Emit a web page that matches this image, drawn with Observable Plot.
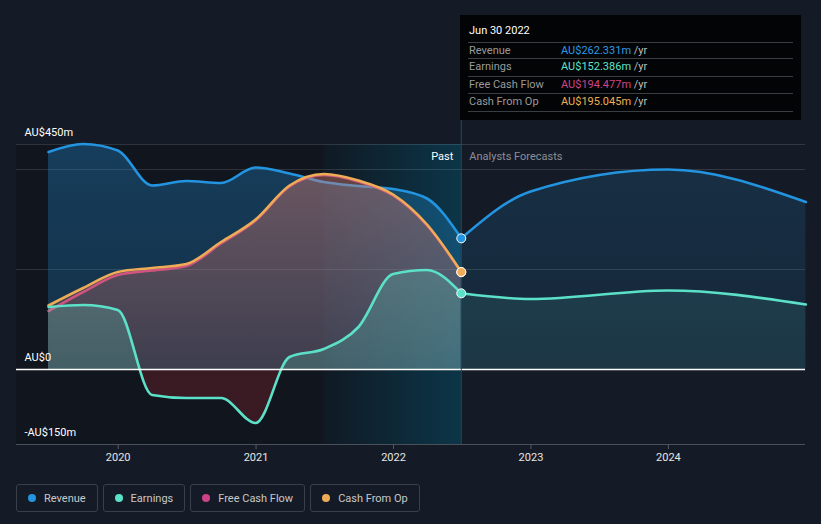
<!DOCTYPE html>
<html><head><meta charset="utf-8">
<script src="https://cdn.jsdelivr.net/npm/d3@7"></script>
<script src="https://cdn.jsdelivr.net/npm/@observablehq/plot@0.6"></script>
<style>
body{margin:0;background:#151b26;font-family:Roboto,sans-serif;}
#wrap{position:relative;width:821px;height:524px;overflow:hidden;}
#chart{position:absolute;left:0;top:0;}
.tip{position:absolute;left:460px;top:15px;width:341px;height:105px;background:#030405;font-size:11px;}
.tip .tt{position:absolute;left:9px;top:9px;color:#fff;line-height:14px;}
.tip .row{position:absolute;left:8px;width:325px;height:17px;border-top:1px solid #3a3d42;line-height:16px;}
.tip .row.last{border-bottom:1px solid #3a3d42;}
.tip .lab{position:absolute;left:1px;color:#9a9a9a;}
.tip .val{position:absolute;left:93px;}
.tip .yr{color:#bdbdbd;}
.legend{position:absolute;top:484px;left:16px;display:flex;gap:5px;}
.legend .item{height:28px;border:1px solid #3a3f4a;border-radius:3px;display:flex;align-items:center;padding:0 11px;color:#c8c8c8;font-size:11px;box-sizing:border-box;}
.legend .dot{width:8px;height:8px;border-radius:50%;margin-right:8px;}
</style>
</head><body>
<svg width="0" height="0" style="position:absolute">
<defs>
<linearGradient id="revPast" x1="0" y1="0" x2="0" y2="1"><stop offset="0" stop-color="#2394df" stop-opacity="0.32"/><stop offset="1" stop-color="#2394df" stop-opacity="0.2"/></linearGradient>
<linearGradient id="revFc" x1="0" y1="0" x2="0" y2="1"><stop offset="0" stop-color="#2394df" stop-opacity="0.16"/><stop offset="1" stop-color="#2394df" stop-opacity="0.1"/></linearGradient>
<linearGradient id="fcfG" x1="0" y1="0" x2="0" y2="1"><stop offset="0" stop-color="#c94386" stop-opacity="0.25"/><stop offset="1" stop-color="#c94386" stop-opacity="0.12"/></linearGradient>
<linearGradient id="cfoG" x1="0" y1="0" x2="0" y2="1"><stop offset="0" stop-color="#f0ad55" stop-opacity="0.22"/><stop offset="1" stop-color="#f0ad55" stop-opacity="0.1"/></linearGradient>
<linearGradient id="earnPast" gradientUnits="userSpaceOnUse" x1="0" y1="144" x2="0" y2="444"><stop offset="0" stop-color="#5ce1c9" stop-opacity="0.24"/><stop offset="0.75" stop-color="#5ce1c9" stop-opacity="0.2"/><stop offset="0.75" stop-color="#e0303a" stop-opacity="0.2"/><stop offset="1" stop-color="#e0303a" stop-opacity="0.2"/></linearGradient>
<linearGradient id="earnFc" x1="0" y1="0" x2="0" y2="1"><stop offset="0" stop-color="#5ce1c9" stop-opacity="0.1"/><stop offset="1" stop-color="#5ce1c9" stop-opacity="0.08"/></linearGradient>
<linearGradient id="hl" x1="0" y1="0" x2="1" y2="0"><stop offset="0" stop-color="#0082aa" stop-opacity="0.04"/><stop offset="1" stop-color="#0082aa" stop-opacity="0.3"/></linearGradient>
</defs></svg>
<div id="wrap"><div id="chart"></div><div class="tip" id="tip"></div><div class="legend" id="legend"></div></div>
<script>
// ---- data ----
const pastDates = ["2019-06-30","2019-09-30","2019-12-31","2020-03-31","2020-06-30","2020-09-30","2020-12-31","2021-03-31","2021-06-30","2021-09-30","2021-12-31","2022-03-31","2022-06-30"];
const revenuePast  = [435, 451, 438, 368, 377, 373, 404, 392, 375, 367, 361, 342, 262.331];
const earningsPast = [125, 129, 119, -51, -57, -57, -107, 25, 41, 85, 191, 199, 152.386];
const fcfPast      = [117, 155, 189, 198, 207, 252, 298, 366, 389, 376, 348, 288, 194.477];
const cfoPast      = [128, 163, 195, 203, 211, 255, 300, 368, 391, 378, 350, 290, 195.045];
const forecastDates = ["2022-06-30","2022-12-31","2023-12-31","2024-12-31"];
const revenueForecast  = [262.331, 356, 400, 335];
const earningsForecast = [152.386, 141, 158, 130];
const seriesNames  = ["Revenue","Earnings","Free Cash Flow","Cash From Op"];
const seriesColors = ["#2394df","#5ce1c9","#c94386","#eeac57"];
const tooltipDate = "Jun 30 2022";
const tooltipValues = [262.331, 152.386, 194.477, 195.045];
const yTickLabels = [450, 0, -150];
const gridValues = [450, 400, 200];
const yDomain = [-150, 450];
const xDomain = ["2019-04-06","2024-12-30"];
const highlightStart = "2021-06-30";
const forecastStart = "2022-06-30";
const yearTicks = ["2020-01-01","2021-01-01","2022-01-01","2023-01-01","2024-01-01"];

// ---- tables ----
const D = s => new Date(s + "T00:00:00Z");
const past = pastDates.map((d,i)=>({date:D(d), revenue:revenuePast[i], earnings:earningsPast[i], fcf:fcfPast[i], cfo:cfoPast[i]}));
const fc = forecastDates.map((d,i)=>({date:D(d), revenue:revenueForecast[i], earnings:earningsForecast[i]}));
const last = past[past.length-1];
const fmt = v => v < 0 ? "-AU$" + (-v) + "m" : v === 0 ? "AU$0" : "AU$" + v + "m";
const C = {rev:seriesColors[0], earn:seriesColors[1], fcf:seriesColors[2], cfo:seriesColors[3]};
const curve = "monotone-x";

const chart = Plot.plot({
  width: 821, height: 470,
  marginTop: 144, marginBottom: 26, marginLeft: 16, marginRight: 16,
  style: {background: "transparent", color: "#e0e0e0", fontFamily: "Roboto, sans-serif", fontSize: "11px", overflow: "visible"},
  x: {type: "utc", domain: xDomain.map(D), axis: null},
  y: {domain: yDomain, axis: null},
  marks: [
    Plot.rect([0], {x1: () => D(xDomain[0]), x2: () => D(forecastStart), y1: () => yDomain[0], y2: () => yDomain[1], fill: "#000", fillOpacity: 0.2}),
    Plot.rect([0], {x1: () => D(highlightStart), x2: () => D(forecastStart), y1: () => yDomain[0], y2: () => yDomain[1], fill: "url(#hl)"}),
    Plot.ruleY(gridValues, {stroke: "#fff", strokeOpacity: 0.13}),
    Plot.areaY(past, {x: "date", y1: 0, y2: "revenue", curve, fill: "url(#revPast)"}),
    Plot.areaY(fc, {x: "date", y1: 0, y2: "revenue", curve, fill: "url(#revFc)"}),
    Plot.line(past, {x: "date", y: "revenue", curve, stroke: C.rev, strokeWidth: 2.6}),
    Plot.line(fc, {x: "date", y: "revenue", curve, stroke: C.rev, strokeWidth: 2.6}),
    Plot.areaY(past, {x: "date", y1: 0, y2: "fcf", curve, fill: "url(#fcfG)"}),
    Plot.line(past, {x: "date", y: "fcf", curve, stroke: C.fcf, strokeWidth: 2.6}),
    Plot.areaY(past, {x: "date", y1: 0, y2: "cfo", curve, fill: "url(#cfoG)"}),
    Plot.line(past, {x: "date", y: "cfo", curve, stroke: C.cfo, strokeWidth: 2.6}),
    Plot.areaY(past, {x: "date", y1: 0, y2: "earnings", curve, fill: "url(#earnPast)"}),
    Plot.areaY(fc, {x: "date", y1: 0, y2: "earnings", curve, fill: "url(#earnFc)"}),
    Plot.line(past, {x: "date", y: "earnings", curve, stroke: C.earn, strokeWidth: 2.6}),
    Plot.line(fc, {x: "date", y: "earnings", curve, stroke: C.earn, strokeWidth: 2.6}),
    Plot.ruleY([0], {stroke: "#fff", strokeWidth: 1.4}),
    Plot.ruleY([yDomain[0]], {stroke: "#4a4f58", strokeWidth: 1}),
    Plot.ruleX([D(forecastStart)], {y1: yDomain[0], y2: yDomain[1] + 48, stroke: "#1f4d60", strokeWidth: 1}),
    Plot.dot([last], {x: "date", y: "revenue", r: 4.5, fill: C.rev, stroke: "#fff", strokeWidth: 1}),
    Plot.dot([last], {x: "date", y: "fcf", r: 4.5, fill: C.fcf, stroke: "#fff", strokeWidth: 1}),
    Plot.dot([last], {x: "date", y: "cfo", r: 4.5, fill: C.cfo, stroke: "#fff", strokeWidth: 1}),
    Plot.dot([last], {x: "date", y: "earnings", r: 4.5, fill: C.earn, stroke: "#fff", strokeWidth: 1}),
    Plot.text(yTickLabels, {y: d => d, text: fmt, frameAnchor: "left", dx: 8, dy: -12, textAnchor: "start", lineAnchor: "middle", fill: "#fff", fontSize: 11}),
    Plot.text(["Past"], {x: () => D(forecastStart), text: d => d, frameAnchor: "top", lineAnchor: "middle", dy: 12, dx: -8, textAnchor: "end", fill: "#fff", fontSize: 11}),
    Plot.text(["Analysts Forecasts"], {x: () => D(forecastStart), text: d => d, frameAnchor: "top", lineAnchor: "middle", dy: 12, dx: 8, textAnchor: "start", fill: "#8a8e96", fontSize: 11}),
    Plot.axisX(yearTicks.map(D), {tickFormat: d3.utcFormat("%Y"), tickSize: 5, tickPadding: 4, stroke: "#555a63", fill: "#e6e6e6", fontSize: 11})
  ]
});
document.getElementById("chart").appendChild(chart);

// tooltip
const tip = document.getElementById("tip");
const valColors = ["#2d9ae6","#5fe3c8","#d0458a","#eeb055"];
const rowTops = [26.5, 43.3, 61, 78.3];
let html = `<div class="tt">${tooltipDate}</div>`;
seriesNames.forEach((n,i)=>{
  html += `<div class="row${i===3?' last':''}" style="top:${rowTops[i]}px"><span class="lab">${n}</span><span class="val"><span style="color:${valColors[i]}">AU$${tooltipValues[i].toFixed(3)}m</span><span class="yr"> /yr</span></span></div>`;
});
tip.innerHTML = html;

// legend
const legend = document.getElementById("legend");
seriesNames.forEach((n,i)=>{
  const it = document.createElement("div");
  it.className = "item";
  it.innerHTML = `<span class="dot" style="background:${seriesColors[i]}"></span><span>${n}</span>`;
  legend.appendChild(it);
});
</script>
</body></html>
